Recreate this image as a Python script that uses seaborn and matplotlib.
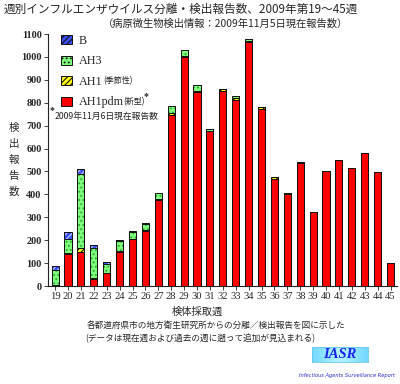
import matplotlib
matplotlib.use("Agg")
import matplotlib.pyplot as plt
from matplotlib.patches import Patch
import numpy as np
import seaborn as sns

weeks = ["19", "20", "21", "22", "23", "24", "25", "26", "27", "28", "29", "30", "31",
         "32", "33", "34", "35", "36", "37", "38", "39", "40", "41", "42", "43", "44", "45"]
ah1pdm = [3, 140, 148, 30, 55, 150, 205, 242, 375, 748, 1000, 848, 675,
          850, 814, 1065, 771, 468, 402, 538, 322, 500, 551, 514, 579, 498, 101]
ah1 = [2, 3, 17, 5, 3, 3, 2, 3, 5, 6, 3, 3, 2,
       8, 6, 3, 10, 8, 4, 3, 2, 1, 1, 1, 1, 1, 0]
ah3 = [65, 62, 326, 133, 40, 45, 30, 25, 25, 30, 27, 26, 10,
       0, 8, 10, 0, 0, 0, 0, 0, 0, 0, 0, 0, 0, 0]
b = [19, 30, 21, 12, 7, 3, 5, 4, 1, 1, 0, 0, 0,
     0, 0, 0, 0, 0, 0, 0, 0, 0, 0, 0, 0, 0, 0]
yticks = [0, 100, 200, 300, 400, 500, 600, 700, 800, 900, 1000, 1100]

sns.set_style("ticks")
JP = "Noto Sans CJK JP"
SERIF = "Liberation Serif"
plt.rcParams["font.family"] = [SERIF, JP, "DejaVu Sans"]
plt.rcParams["hatch.linewidth"] = 0.8

W, H = 400, 384
fig = plt.figure(figsize=(W / 100, H / 100), dpi=100)
fig.patch.set_facecolor("white")
ax = fig.add_axes([48 / W, 1 - 286 / H, (397 - 48) / W, (286 - 34) / H])

l1 = np.array(ah1pdm, dtype=float)
l2 = l1 + np.array(ah1)
l3 = l2 + np.array(ah3)
l4 = l3 + np.array(b)

layers = [
    (l4, "#3a4dff", "//////", "#c8d0ff"),
    (l3, "#7dff7d", "....", "#2fa02f"),
    (l2, "#ffff00", "//////", "#000000"),
    (l1, "#ff0000", None, "#ff0000"),
]
for heights, face, hatch, hcol in layers:
    sns.barplot(x=weeks, y=heights, order=weeks, color=face, saturation=1,
                hatch=hatch, edgecolor=hcol, linewidth=0, width=0.55,
                errorbar=None, ax=ax)
    sns.barplot(x=weeks, y=heights, order=weeks, color="#111111", fill=False,
                linewidth=0.7, width=0.55, errorbar=None, ax=ax)

ax.set_xlim(-0.55, 26.5)
ax.set_ylim(0, 1100)
ax.set_yticks(yticks)
ax.set_xlabel("")
ax.set_ylabel("")
sns.despine(ax=ax)
for s in ("left", "bottom"):
    ax.spines[s].set_linewidth(0.8)
    ax.spines[s].set_color("#222222")
ax.tick_params(axis="both", length=3, width=0.6, color="#222222", pad=1.5)
for lab in ax.get_xticklabels():
    lab.set_fontsize(7.6)
    lab.set_family(SERIF)
for lab in ax.get_yticklabels():
    lab.set_fontsize(7.4)
    lab.set_family(SERIF)
    lab.set_fontweight("bold")


def ft(x, y, s, **kw):
    return fig.text(x / W, 1 - y / H, s, **kw)


# legend
handles = [
    Patch(facecolor="#3a4dff", hatch="//////", edgecolor="#111111", linewidth=0.7),
    Patch(facecolor="#7dff7d", hatch="....", edgecolor="#111111", linewidth=0.7),
    Patch(facecolor="#ffff00", hatch="//////", edgecolor="#111111", linewidth=0.7),
    Patch(facecolor="#ff0000", edgecolor="#111111", linewidth=0.7),
]
leg = ax.legend(handles, ["B", "AH3", "AH1", "AH1pdm"], loc="upper left",
                bbox_to_anchor=(61 / W, 1 - 35 / H), bbox_transform=fig.transFigure,
                frameon=False, borderpad=0, borderaxespad=0, handlelength=0.9,
                handleheight=0.8, handletextpad=0.6, labelspacing=0.70,
                prop={"family": SERIF, "size": 8.7})
ft(103, 81, "(季節性)", fontsize=5.8, family=JP, va="center", ha="left")
ft(123, 102, "(新型)", fontsize=5.8, family=JP, va="center", ha="left")
ft(144, 97, "*", fontsize=7, family=SERIF, va="center", ha="left", fontweight="bold")
ft(50, 111, "*", fontsize=7, family=SERIF, va="center", ha="left", fontweight="bold")
ft(55, 116, "2009年11月6日現在報告数", fontsize=6.3, family=JP, va="center", ha="left")

# titles
ft(4, 9, "週別インフルエンザウイルス分離・検出報告数、2009年第19〜45週",
   fontsize=8.4, family=JP, va="center", ha="left")
ft(225, 24, "（病原微生物検出情報：2009年11月5日現在報告数）",
   fontsize=7.4, family=JP, va="center", ha="center")

# axis labels
ft(14, 160, "検\n出\n報\n告\n数", fontsize=7.6, family=JP, va="center",
   ha="center", linespacing=1.75)
ft(197, 312, "検体採取週", fontsize=7.4, family=JP, va="center", ha="center")

# notes
ft(216, 325, "各都道府県市の地方衛生研究所からの分離／検出報告を図に示した",
   fontsize=6.2, family=JP, va="center", ha="center")
ft(200, 339, "(データは現在週および過去の週に遡って追加が見込まれる)",
   fontsize=6.2, family=JP, va="center", ha="center")

# IASR logo
lax = fig.add_axes([312 / W, 1 - 362 / H, 56 / W, 15 / H])
grad = np.linspace(0, 1, 64)
g2 = np.minimum(np.abs(grad - 0.5) * 2, 1)
cols = np.zeros((1, 64, 3))
top = np.array([0.45, 0.85, 1.0])
mid = np.array([0.72, 0.95, 1.0])
for i, t in enumerate(g2):
    cols[0, i] = mid * (1 - t) + top * t
lax.imshow(cols, aspect="auto", extent=(0, 1, 0, 1))
lax.set_xticks([])
lax.set_yticks([])
for s in lax.spines.values():
    s.set_color("#66c8ee")
    s.set_linewidth(0.6)
lax.text(0.5, 0.48, "IASR", transform=lax.transAxes, ha="center", va="center",
         fontsize=10.5, family=SERIF, fontweight="bold", style="italic",
         color="#1a22ee")
ft(347, 376, "Infectious Agents Surveillance Report", fontsize=3.7,
   family="DejaVu Sans", style="italic", color="#2a2acc", va="center", ha="center")

fig.savefig("out.png", dpi=100, facecolor="white")
